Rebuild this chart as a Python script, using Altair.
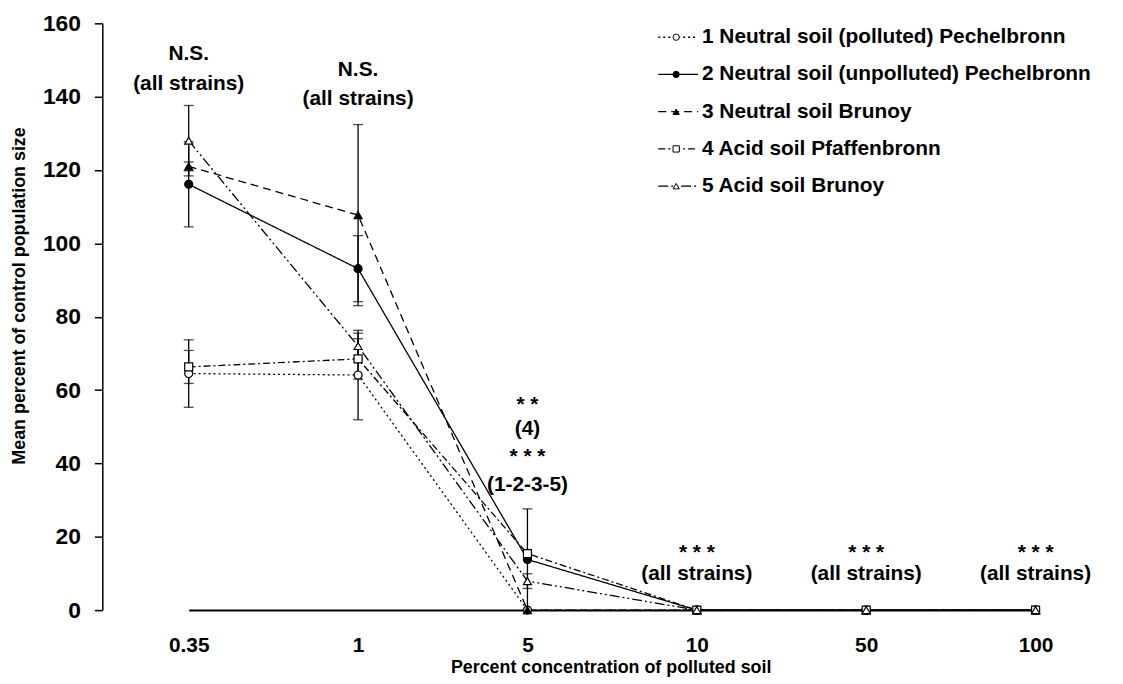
import altair as alt
import pandas as pd

FONT = "Liberation Sans"

# ---- data ----
conc = ["0.35", "1", "5", "10", "50", "100"]
series_ids = ["1", "2", "3", "4", "5"]
series_labels = [
    "1  Neutral soil (polluted) Pechelbronn",
    "2  Neutral soil (unpolluted) Pechelbronn",
    "3  Neutral soil Brunoy",
    "4  Acid soil Pfaffenbronn",
    "5  Acid soil Brunoy",
]
mean_1 = [64.5, 64.1, 0, 0, 0, 0]
mean_2 = [116.1, 93.1, 13.8, 0, 0, 0]
mean_3 = [121.0, 107.7, 0, 0, 0, 0]
mean_4 = [66.3, 68.5, 15.4, 0, 0, 0]
mean_5 = [128.0, 72.0, 7.9, 0, 0, 0]
sd_1 = [9.2, 12.2, 0, 0, 0, 0]
sd_2 = [11.6, 9.0, 13.8, 0, 0, 0]
sd_3 = [1.2, 24.7, 0, 0, 0, 0]
sd_4 = [4.5, 5.5, 0, 0, 0, 0]
sd_5 = [9.6, 3.5, 2.0, 0, 0, 0]

ann_conc = ["0.35", "0.35", "1", "1", "5", "5", "5", "5",
            "10", "10", "50", "50", "100", "100"]
ann_y = [151.5, 143.4, 147.2, 139.3, 56.2, 49.4, 42.1, 34.0,
         15.9, 9.7, 15.9, 9.7, 15.9, 9.7]
ann_text = ["N.S.", "(all strains)", "N.S.", "(all strains)",
            "* *", "(4)", "* * *", "(1-2-3-5)",
            "* * *", "(all strains)", "* * *", "(all strains)",
            "* * *", "(all strains)"]

# ---- tables ----
means = [mean_1, mean_2, mean_3, mean_4, mean_5]
sds = [sd_1, sd_2, sd_3, sd_4, sd_5]
rows = []
for sid, m, s in zip(series_ids, means, sds):
    for c, v, e in zip(conc, m, s):
        rows.append({"series": sid, "conc": c, "value": v, "lo": v - e, "hi": v + e, "sd": e})
df = pd.DataFrame(rows)
err = df[df["sd"] > 0]
ann = pd.DataFrame({"conc": ann_conc, "y": ann_y, "text": ann_text})
leg = pd.DataFrame({"series": series_ids, "label": series_labels})

dash_scale = alt.Scale(domain=series_ids,
                       range=[[2, 3], [1, 0], [8, 5], [7, 3, 2, 3], [10, 3, 2, 3, 2, 3]])
shape_scale = alt.Scale(domain=series_ids,
                        range=["circle", "circle", "triangle-up", "square", "triangle-up"])
fill_scale = alt.Scale(domain=series_ids,
                       range=["white", "black", "black", "white", "white"])

x_enc = alt.X(
    "conc:O", sort=conc,
    scale=alt.Scale(type="point", range=[87, 940], padding=0),
    axis=alt.Axis(
        title="Percent concentration of polluted soil",
        labelAngle=0, ticks=False, tickSize=0, labelPadding=36,
        labelBaseline="middle", labelFont=FONT, labelFontSize=21,
        labelFontWeight="bold", labelColor="black",
        domainColor="black", domainWidth=2,
        titleFont=FONT, titleFontSize=18, titleFontWeight="bold",
        titleColor="black", titleX=512, titleY=58,
        titleBaseline="middle", titleAlign="center",
    ),
)
y_scale = alt.Scale(domain=[0, 160], nice=False)
y_enc = alt.Y(
    "value:Q", scale=y_scale,
    axis=alt.Axis(
        title="Mean percent  of control population size",
        values=list(range(0, 161, 20)), grid=False,
        tickSize=8, tickWidth=1.5, tickColor="black",
        labelPadding=14, labelFont=FONT, labelFontSize=23,
        labelFontWeight="bold", labelColor="black",
        domainColor="black", domainWidth=1.5,
        titleFont=FONT, titleFontSize=18, titleFontWeight="bold",
        titleColor="black", titleX=-83, titleY=444, titleAngle=270,
        titleAlign="left", titleBaseline="middle",
    ),
)

base = alt.Chart(df)

lines = base.mark_line(color="black", strokeWidth=1.3).encode(
    x=x_enc, y=y_enc,
    strokeDash=alt.StrokeDash("series:N", scale=dash_scale, legend=None),
    detail="series:N",
)

err_rule = alt.Chart(err).mark_rule(color="black", strokeWidth=1.3).encode(
    x=alt.X("conc:O", sort=conc),
    y=alt.Y("lo:Q", scale=y_scale),
    y2="hi:Q",
)
cap_lo = alt.Chart(err).mark_tick(color="black", size=10, thickness=1.3).encode(
    x=alt.X("conc:O", sort=conc), y=alt.Y("lo:Q", scale=y_scale))
cap_hi = alt.Chart(err).mark_tick(color="black", size=10, thickness=1.3).encode(
    x=alt.X("conc:O", sort=conc), y=alt.Y("hi:Q", scale=y_scale))

points = base.mark_point(filled=True, stroke="black", strokeWidth=1.2,
                         opacity=1, size=65).encode(
    x=alt.X("conc:O", sort=conc), y=alt.Y("value:Q", scale=y_scale),
    shape=alt.Shape("series:N", scale=shape_scale, legend=None),
    fill=alt.Fill("series:N", scale=fill_scale, legend=None),
    order=alt.Order("series:N"),
)

ann_base = alt.Chart(ann)
annots = ann_base.transform_filter(
    "indexof(datum.text, '*') < 0"
).mark_text(font=FONT, fontSize=21, fontWeight="bold", color="black",
            baseline="middle", align="center").encode(
    x=alt.X("conc:O", sort=conc), y=alt.Y("y:Q", scale=y_scale), text="text:N")
stars = ann_base.transform_filter(
    "indexof(datum.text, '*') >= 0"
).mark_text(font=FONT, fontSize=21, fontWeight="bold", color="black",
            baseline="middle", align="center", dy=1).encode(
    x=alt.X("conc:O", sort=conc), y=alt.Y("y:Q", scale=y_scale), text="text:N")

main = alt.layer(lines, err_rule, cap_lo, cap_hi, points, annots, stars)

# ---- manual legend (top right) ----
leg_y = alt.Y("series:N", sort=series_ids,
              scale=alt.Scale(type="point", range=[14, 164], padding=0), axis=None)
leg_base = alt.Chart(leg)
leg_lines = leg_base.mark_rule(color="black", strokeWidth=1.3).encode(
    x=alt.value(560), x2=alt.value(600), y=leg_y,
    strokeDash=alt.StrokeDash("series:N", scale=dash_scale, legend=None),
)
leg_points = leg_base.mark_point(filled=True, stroke="black", strokeWidth=1,
                                 opacity=1, size=40).encode(
    x=alt.value(578), y=leg_y,
    shape=alt.Shape("series:N", scale=shape_scale, legend=None),
    fill=alt.Fill("series:N", scale=fill_scale, legend=None),
)
leg_text = leg_base.mark_text(font=FONT, fontSize=21, fontWeight="bold",
                              color="black", align="left",
                              baseline="middle").encode(
    x=alt.value(604), y=leg_y, text="label:N")
legend = alt.layer(leg_lines, leg_points, leg_text)

chart = alt.layer(main, legend).resolve_scale(y="independent").properties(
    width=1010, height=591,
    autosize=alt.AutoSizeParams(type="none"),
    padding={"left": 95, "top": 13, "right": 10, "bottom": 72},
    background="white",
).configure_view(stroke=None)

chart.save("out.html", embed_options={"renderer": "svg", "actions": False})
